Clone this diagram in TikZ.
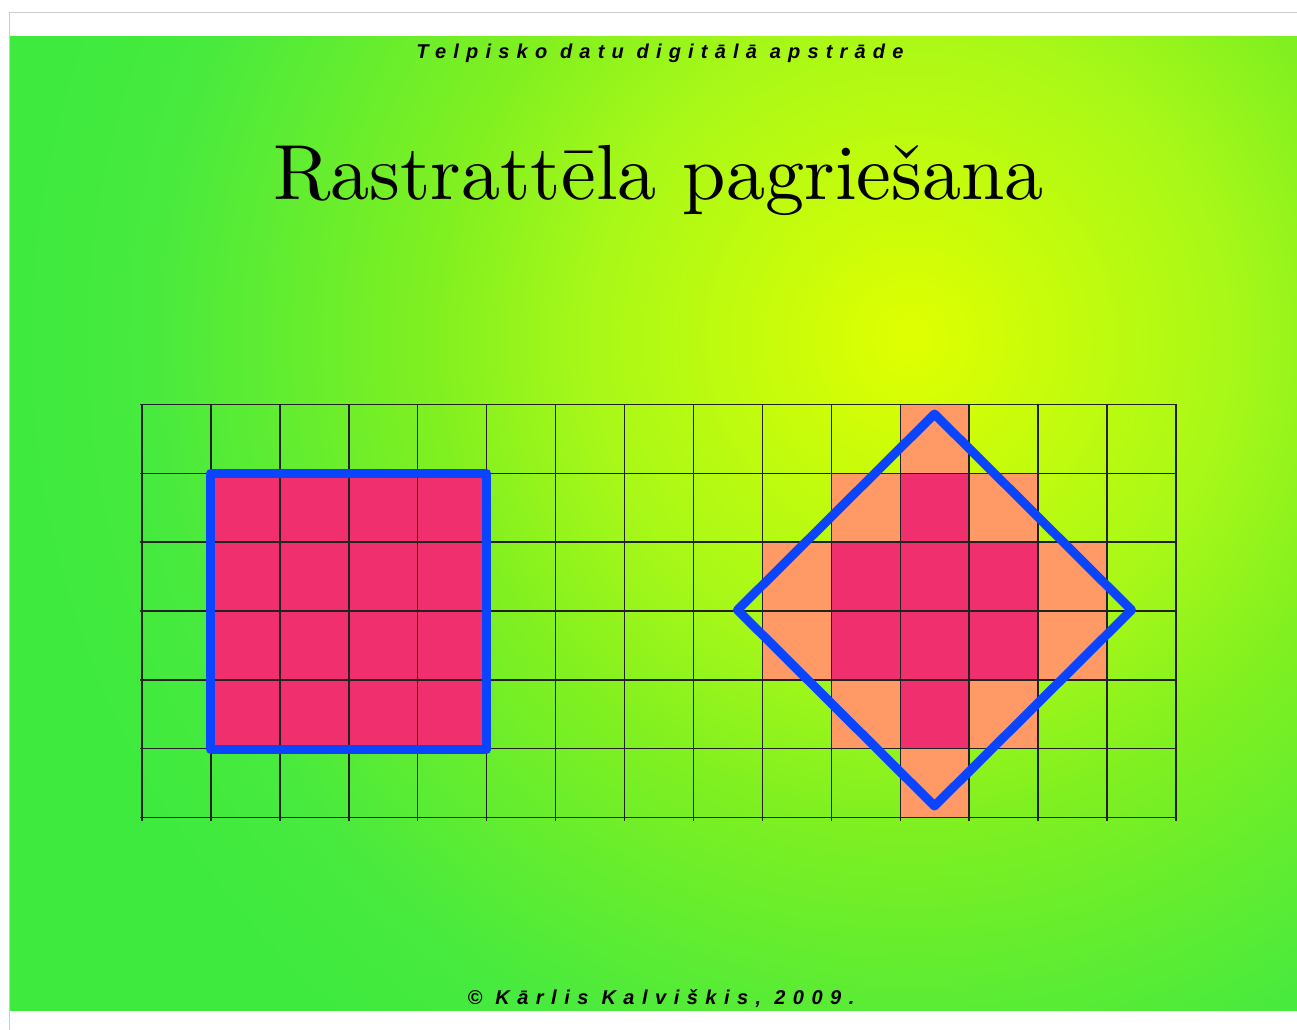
\documentclass[tikz,border=0pt]{standalone}
\usepackage{fontspec}
\newfontfamily\hdrfont{Liberation Sans}[LetterSpace=36]
\newfontfamily\ftrfont{Liberation Sans}[LetterSpace=37.5]
\newfontfamily\ttlfont{lmroman10-regular.otf}
\definecolor{pinkc}{HTML}{F0306E}
\definecolor{orangec}{HTML}{FF9966}
\definecolor{bluec}{HTML}{0A44FF}
\definecolor{gridc}{HTML}{222222}
\definecolor{framec}{HTML}{CCCCCC}
\definecolor{ga}{HTML}{E0FF00}
\definecolor{gb}{HTML}{A8F818}
\definecolor{gc}{HTML}{80F020}
\definecolor{gd}{HTML}{48EA3E}
\definecolor{ge}{HTML}{3EEA3E}
\pgfdeclareradialshading{bgshade}{\pgfpoint{0bp}{0bp}}{color(0bp)=(ga); color(8bp)=(gb); color(12bp)=(gc); color(19bp)=(gd); color(22.5bp)=(ge); color(50bp)=(ge)}
\tikzset{
  gridline/.style={draw=gridc, line width=1.1pt},
  outline/.style={draw=bluec, line width=6.75pt, line join=round},
  hdr/.style={font=\hdrfont\bfseries\itshape\fontsize{15}{17}\selectfont, anchor=base, inner sep=0pt},
  ftr/.style={font=\ftrfont\bfseries\itshape\fontsize{15}{17}\selectfont, anchor=base, inner sep=0pt},
}
\begin{document}
\begin{tikzpicture}[x=0.75pt, y=-0.75pt]
\useasboundingbox (0,0) rectangle (1297,1030);
\fill[white] (0,0) rectangle (1297,1030);
% background gradient
\begin{scope}
  \clip (10,37) rectangle (1297,1010.5);
  \shade[shading=bgshade] (-90,-660) rectangle (1910,1340);
\end{scope}
\draw[framec, line width=1.1pt] (9.5,1030) -- (9.5,12.5) -- (1297,12.5);
% texts
\node[hdr] (header) at (660,59) {Telpisko datu digitālā apstrāde};
\node[anchor=base, inner sep=0pt, font=\ttlfont\fontsize{58.6}{60}\selectfont] (title) at (658.5,200) {Rastrattēla pagriešana};
\node[ftr] (footer) at (661,1004) {© Kārlis Kalviškis, 2009.};
% cells
\def\cw{68.93}
\def\ch{68.83}
\foreach \c in {1,2,3,4}
  \foreach \r in {1,2,3,4}
    \fill[pinkc] (142+\c*\cw, 404.5+\r*\ch) rectangle ++(\cw,\ch);
\foreach \c/\r in {11/0,10/1,12/1,9/2,13/2,9/3,13/3,10/4,12/4,11/5}
  \fill[orangec] (142+\c*\cw, 404.5+\r*\ch) rectangle ++(\cw,\ch);
\foreach \c/\r in {11/1,11/2,11/3,11/4,10/2,10/3,12/2,12/3}
  \fill[pinkc] (142+\c*\cw, 404.5+\r*\ch) rectangle ++(\cw,\ch);
% grid
\foreach \i in {0,...,15}
  \draw[gridline] (142+\i*\cw, 404.5) -- (142+\i*\cw, 821);
\foreach \j in {0,...,6}
  \draw[gridline] (140, 404.5+\j*\ch) -- (1177, 404.5+\j*\ch);
% outlines
\coordinate (sqa) at (142+\cw, 404.5+\ch);
\coordinate (sqb) at (142+5*\cw, 404.5+5*\ch+1);
\draw[outline] (sqa) rectangle (sqb);
\coordinate (dc) at (934.5,610);
\coordinate (dt) at (934.5,414);
\coordinate (dr) at (1131.5,610);
\coordinate (db) at (934.5,806);
\coordinate (dl) at (737.5,610);
\draw[outline] (dt) -- (dr) -- (db) -- (dl) -- cycle;
\end{tikzpicture}
\end{document}
